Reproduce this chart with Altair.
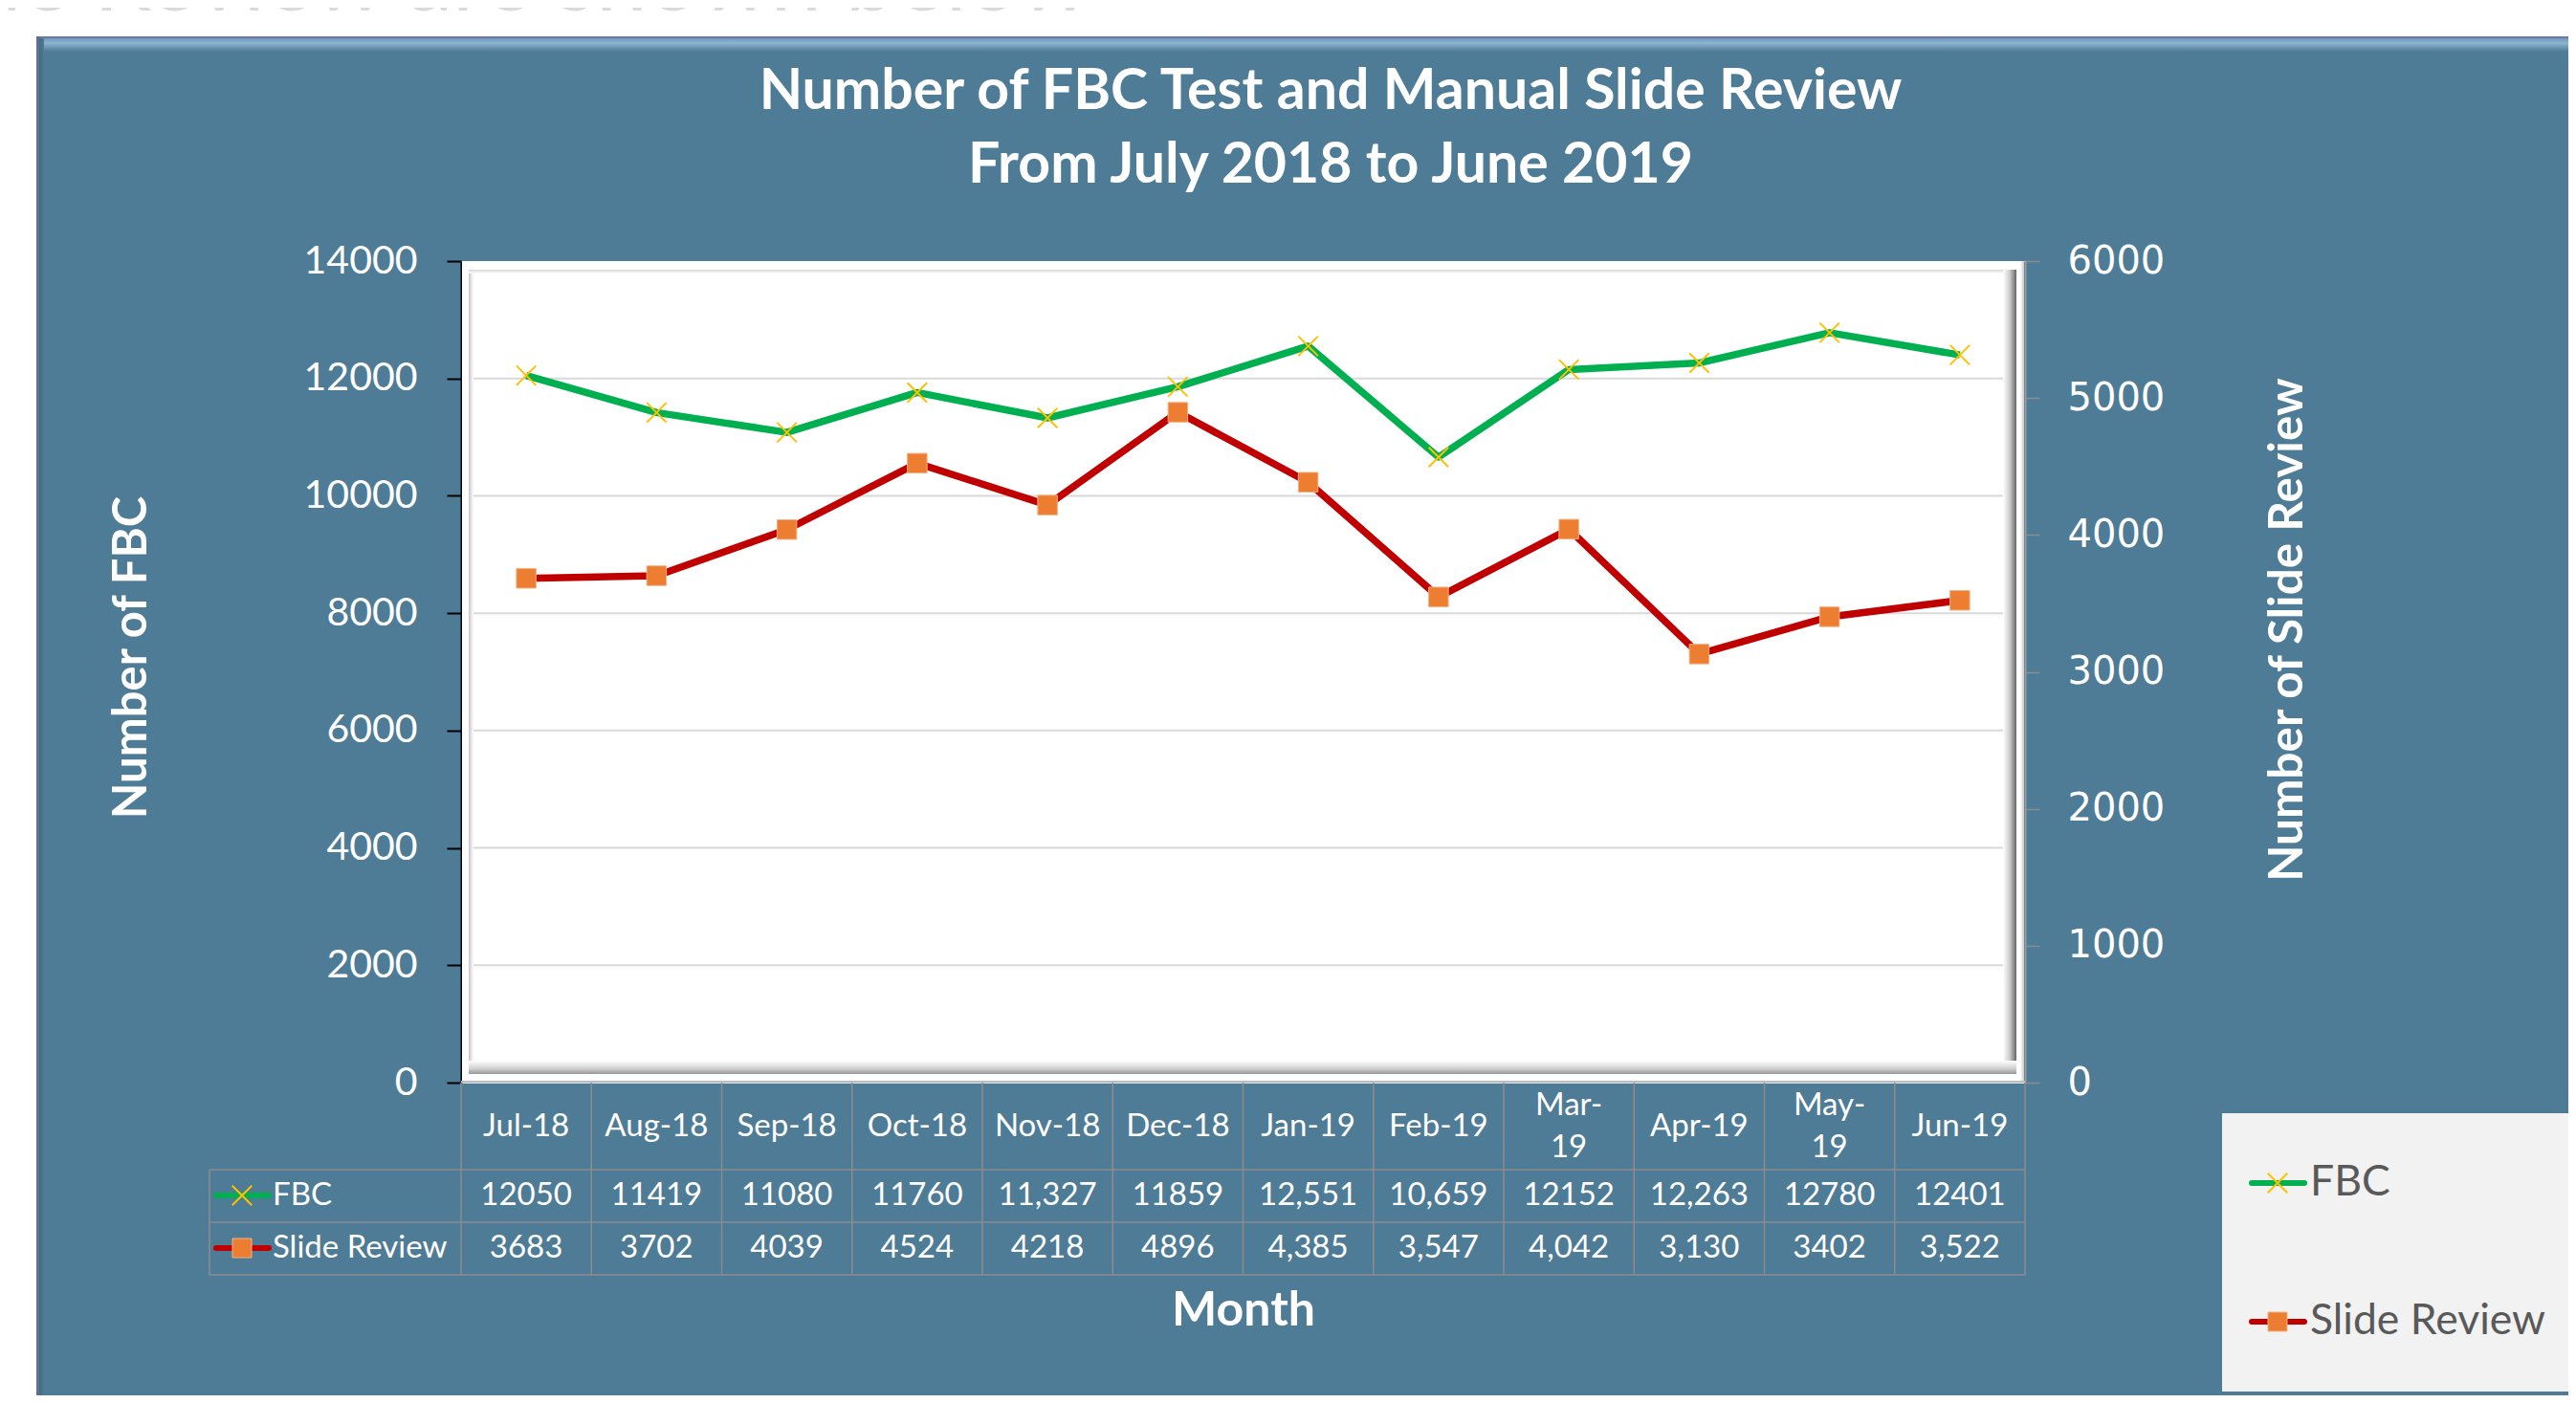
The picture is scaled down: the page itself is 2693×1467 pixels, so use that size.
import altair as alt
import pandas as pd

# ---------------- data ----------------
months = ["Jul-18", "Aug-18", "Sep-18", "Oct-18", "Nov-18", "Dec-18",
          "Jan-19", "Feb-19", "Mar-19", "Apr-19", "May-19", "Jun-19"]
month_labels = ["Jul-18", "Aug-18", "Sep-18", "Oct-18", "Nov-18", "Dec-18",
                "Jan-19", "Feb-19", "Mar-\n19", "Apr-19", "May-\n19", "Jun-19"]
fbc = [12050, 11419, 11080, 11760, 11327, 11859, 12551, 10659, 12152, 12263, 12780, 12401]
slide = [3683, 3702, 4039, 4524, 4218, 4896, 4385, 3547, 4042, 3130, 3402, 3522]
fbc_text = ["12050", "11419", "11080", "11760", "11,327", "11859",
            "12,551", "10,659", "12152", "12,263", "12780", "12401"]
slide_text = ["3683", "3702", "4039", "4524", "4218", "4896",
              "4,385", "3,547", "4,042", "3,130", "3402", "3,522"]
left_ticks = [0, 2000, 4000, 6000, 8000, 10000, 12000, 14000]
right_ticks = [0, 1000, 2000, 3000, 4000, 5000, 6000]
title_lines = ["Number of FBC Test and Manual Slide Review", "From July 2018 to June 2019"]

df = pd.DataFrame({"Month": months, "Label": month_labels, "FBC": fbc, "Slide": slide,
                   "FBCText": fbc_text, "SlideText": slide_text})
grid_df = pd.DataFrame({"v": left_ticks[1:-1]})
one = pd.DataFrame({"k": [0]})

# ---------------- style ----------------
W, H = 1635, 859
STEP = W / 12
BLUE = "#4E7B96"
GREEN = "#00B050"
GOLD = "#FFC000"
RED = "#C00000"
ORANGE = "#ED7D31"
GRIDC = "#8C8C8C"
FONT = "Lato"
XPATH = "M-1,-1L1,1M-1,1L1,-1"


def grad(stops, horizontal=True):
    return alt.LinearGradient(
        gradient="linear",
        stops=[alt.GradientStop(color=c, offset=o) for o, c in stops],
        x1=0, y1=0, x2=1 if horizontal else 0, y2=0 if horizontal else 1)


def rect(x, x2, y, y2, color):
    return alt.Chart(one).mark_rect(color=color).encode(
        x=alt.value(x), x2=alt.value(x2), y=alt.value(y), y2=alt.value(y2))


def hrule(x, x2, y, color=GRIDC, w=1.5, cap="butt"):
    return alt.Chart(one).mark_rule(color=color, strokeWidth=w, strokeCap=cap).encode(
        x=alt.value(x), x2=alt.value(x2), y=alt.value(y))


def vrule(x, y, y2, color=GRIDC, w=1.5):
    return alt.Chart(one).mark_rule(color=color, strokeWidth=w).encode(
        x=alt.value(x), y=alt.value(y), y2=alt.value(y2))


def txt(s, x, y, size, color="white", weight="normal", align="center", font=FONT,
        baseline="middle"):
    return alt.Chart(one).mark_text(text=s, fontSize=size, color=color, fontWeight=weight,
                                    align=align, baseline=baseline, font=font).encode(
        x=alt.value(x), y=alt.value(y))


def xmark(x, y):
    return alt.Chart(one).mark_point(shape=XPATH, filled=False, stroke=GOLD, strokeWidth=2,
                                     size=420, opacity=1).encode(x=alt.value(x), y=alt.value(y))


def sqmark(x, y):
    return alt.Chart(one).mark_point(shape="square", filled=True, fill=ORANGE, stroke="#F4B183",
                                     strokeWidth=1, size=400, opacity=1).encode(
        x=alt.value(x), y=alt.value(y))


X = alt.X("Month:N", sort=months, scale=alt.Scale(type="point", padding=0.5), axis=None)

# ---------------- decoration: page / panel ----------------
deco = [
    rect(-482, 2211, -273, -235, "white"),
    rect(-482, -444, -273, 1194, "white"),
    txt("Slide Review are shown below", 658, -262, 96, color="#DADADA", align="right",
        baseline="alphabetic"),
    rect(-444, 2211, -235, -233, "#6D7BA3"),
    rect(-444, 2211, -233, -219, grad([(0, "#6E97B6"), (0.35, "#8DB5D2"), (1, BLUE)], False)),
    rect(-444, -441, -235, 1194, "#5E6F98"),
    rect(-441, -436, -233, 1194, grad([(0, "#44697F"), (1, BLUE)])),
]

# ---------------- plot area: white, gridlines, bevel ----------------
plot_bg = [
    rect(1, W - 1, 0, H, "white"),
    alt.Chart(grid_df).mark_rule(color="#D9D9D9", strokeWidth=2).encode(
        y=alt.Y("v:Q", scale=alt.Scale(domain=[0, 14000], nice=False), axis=None),
        x=alt.value(8), x2=alt.value(W - 9)),
]
frame = [
    rect(8, 13, 9, 850, grad([(0, "#C4C4C4"), (1, "#FFFFFF")])),
    rect(8, 1626, 9, 13, grad([(0, "#D6D6D6"), (1, "#FFFFFF")], False)),
    rect(1612, 1626, 9, 850, grad([(0, "#FFFFFF"), (0.5, "#CCCCCC"), (1, "#666666")])),
    rect(8, 1626, 836, 850, grad([(0, "#FFFFFF"), (0.6, "#D0D0D0"), (1, "#969696")], False)),
    rect(1630, W - 1, 0, H, grad([(0, "#FFFFFF"), (1, "#C8C8C8")])),
    hrule(0, W, 858, color="#BDBDBD", w=2),
]

# ---------------- data series ----------------
yl = alt.Y("FBC:Q", scale=alt.Scale(domain=[0, 14000], nice=False),
           axis=alt.Axis(orient="left", values=left_ticks, format="d", grid=False,
                         domainColor="black", domainWidth=2,
                         tickColor="black", tickWidth=2, tickSize=15, labelPadding=31,
                         labelColor="white", labelFont=FONT, labelFontSize=41,
                         title="Number of FBC", titleColor="white", titleFont=FONT,
                         titleFontWeight="bold", titleFontSize=49, titleAngle=270,
                         titleAlign="center", titleBaseline="middle", titleX=-345, titleY=414))
yr = alt.Y("Slide:Q", scale=alt.Scale(domain=[0, 6000], nice=False),
           axis=alt.Axis(orient="right", values=right_ticks, format="d", grid=False,
                         domainColor="#9A9A9A", domainWidth=2, tickColor=GRIDC, tickWidth=1.5,
                         tickSize=15, labelPadding=29, labelColor="white",
                         labelFont="DejaVu Sans", labelFontSize=40,
                         title="Number of Slide Review", titleColor="white", titleFont=FONT,
                         titleFontWeight="bold", titleFontSize=49.5, titleAngle=270,
                         titleAlign="center", titleBaseline="middle", titleX=274, titleY=385))

base = alt.Chart(df)
left = alt.layer(
    base.mark_line(color=GREEN, strokeWidth=7.5, strokeJoin="round").encode(x=X, y=yl),
    base.mark_point(shape=XPATH, filled=False, stroke=GOLD, strokeWidth=2, size=420,
                    opacity=1).encode(x=X, y=yl),
)
right = alt.layer(
    base.mark_line(color=RED, strokeWidth=7.5, strokeJoin="round").encode(x=X, y=yr),
    base.mark_point(shape="square", filled=True, fill=ORANGE, stroke="#F4B183", strokeWidth=1,
                    size=420, opacity=1).encode(x=X, y=yr),
)

# ---------------- data table ----------------
one_line = "indexof(datum.Label, '\\n') < 0"
two_line = "indexof(datum.Label, '\\n') >= 0"
table = [
    base.mark_rule(color=GRIDC, strokeWidth=1.5, xOffset=-STEP / 2).encode(
        x=X, y=alt.value(859), y2=alt.value(1060)),
    vrule(W, 859, 1060),
    vrule(-263, 950, 1060),
    hrule(-263, W, 950),
    hrule(-263, W, 1005),
    hrule(-263, W, 1060),
    base.mark_text(fontSize=33, color="white", font=FONT, baseline="middle").encode(
        x=X, y=alt.value(905), text="Label:N").transform_filter(one_line),
    base.mark_text(fontSize=33, color="white", font=FONT, lineBreak="\n", lineHeight=44,
                   baseline="middle").encode(
        x=X, y=alt.value(883), text="Label:N").transform_filter(two_line),
    base.mark_text(fontSize=33, color="white", font=FONT, baseline="middle").encode(
        x=X, y=alt.value(977), text="FBCText:N"),
    base.mark_text(fontSize=33, color="white", font=FONT, baseline="middle").encode(
        x=X, y=alt.value(1032), text="SlideText:N"),
    hrule(-256, -201, 977, color=GREEN, w=6, cap="round"),
    xmark(-229, 977),
    txt("FBC", -197, 977, 33, align="left"),
    hrule(-256, -201, 1032, color=RED, w=6, cap="round"),
    sqmark(-229, 1032),
    txt("Slide Review", -197, 1032, 33, align="left"),
    txt("Month", 818, 1098, 50, weight="bold"),
]

# ---------------- title ----------------
titles = [
    txt(title_lines[0], 909, -177, 59, weight="bold"),
    txt(title_lines[1], 909, -100, 59, weight="bold"),
]

# ---------------- legend ----------------
legend = [
    rect(1841, 2207, 891, 1182, "#F2F2F2"),
    hrule(1872, 1927, 964, color=GREEN, w=6, cap="round"),
    xmark(1899, 964),
    txt("FBC", 1933, 964, 44.5, color="#595959", align="left"),
    hrule(1872, 1927, 1109, color=RED, w=6, cap="round"),
    sqmark(1899, 1109),
    txt("Slide Review", 1933, 1109, 44.5, color="#595959", align="left"),
]

chart = alt.layer(*deco, *plot_bg, *frame, left, right, *table, *titles, *legend).resolve_scale(
    y="independent"
).properties(
    width=W, height=H,
    autosize=alt.AutoSizeParams(type="none"),
    padding={"left": 474, "top": 265, "right": 568, "bottom": 327},
    background=BLUE,
).configure_view(strokeWidth=0).configure(font=FONT)

chart.save("out.html", embed_options={"renderer": "svg", "actions": False})
